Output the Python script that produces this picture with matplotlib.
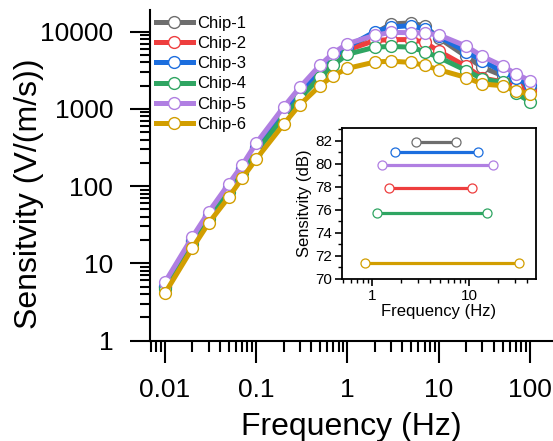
import matplotlib
matplotlib.use("Agg")
import matplotlib.pyplot as plt
from matplotlib.ticker import LogLocator, FuncFormatter, MultipleLocator, NullFormatter

plt.rcParams['font.family'] = ['Liberation Sans', 'DejaVu Sans']

# ----------------------------------------------------------------------------
# Data
freq = [0.01, 0.02, 0.03, 0.05, 0.07, 0.1, 0.2, 0.3, 0.5, 0.7, 1,
        2, 3, 5, 7, 10, 20, 30, 50, 70, 100]

chip1 = [5.0, 19.5, 41, 95, 168, 310, 920, 1620, 3100, 4500, 6200,
         9500, 12600, 13000, 11800, 8300, 4780, 3460, 2700, 2190, 1860]
chip2 = [4.9, 19, 40, 92, 162, 300, 880, 1550, 2950, 4200, 5800,
         7700, 7900, 7900, 7300, 5600, 3550, 2500, 2250, 1900, 1720]
chip3 = [5.1, 20, 42, 97, 172, 320, 950, 1680, 3200, 4700, 6400,
         10000, 11500, 12000, 10800, 8700, 5500, 4200, 3050, 2500, 2030]
chip4 = [4.6, 18, 38, 85, 150, 280, 785, 1370, 2570, 3700, 5100,
         6300, 6450, 6300, 5500, 4660, 3140, 2450, 2200, 1600, 1240]
chip5 = [5.7, 22, 46, 107, 186, 360, 1060, 1900, 3690, 5300, 7000,
         9000, 9800, 9700, 9600, 9100, 6500, 4800, 3600, 2850, 2320]
chip6 = [4.1, 15.8, 33, 72, 126, 224, 635, 1130, 2000, 2700, 3350,
         4050, 4150, 4000, 3650, 3220, 2550, 2100, 2000, 1720, 1550]

labels = ['Chip-1', 'Chip-2', 'Chip-3', 'Chip-4', 'Chip-5', 'Chip-6']
colors = ['#6e6e6e', '#ee3e3e', '#1c6ede', '#2fa562', '#b07fe2', '#d29e00']
series = [chip1, chip2, chip3, chip4, chip5, chip6]

# inset: bandwidth (low / high corner) and peak sensitivity in dB
band_low = [2.84, 1.5, 1.73, 1.13, 1.27, 0.85]
band_high = [7.35, 10.7, 12.4, 15.3, 17.7, 32.7]
peak_db = [81.9, 77.9, 81.0, 75.7, 79.9, 71.4]

# ----------------------------------------------------------------------------
fig = plt.figure(figsize=(5.53, 4.41), dpi=100)
ax = fig.add_axes([150/553, 1 - 340.5/441, 403/553, 330.5/441])

for y, c, lab in zip(series, colors, labels):
    ax.plot(freq, y, color=c, lw=3.6, marker='o', ms=8.5,
            mfc='white', mec=c, mew=1.0, label=lab)

ax.set_xscale('log')
ax.set_yscale('log')
ax.set_xlim(0.00685, 178.7)
ax.set_ylim(1, 19100)

for s in ['top', 'right']:
    ax.spines[s].set_visible(False)
for s in ['left', 'bottom']:
    ax.spines[s].set_linewidth(1.5)

fmt = FuncFormatter(lambda v, p: '%g' % v)
ax.xaxis.set_major_locator(LogLocator(base=10, numticks=10))
ax.yaxis.set_major_locator(LogLocator(base=10, numticks=10))
ax.xaxis.set_minor_locator(LogLocator(base=10, subs=range(2, 10), numticks=20))
ax.yaxis.set_minor_locator(LogLocator(base=10, subs=range(2, 10), numticks=20))
ax.xaxis.set_major_formatter(fmt)
ax.yaxis.set_major_formatter(fmt)
ax.xaxis.set_minor_formatter(NullFormatter())
ax.yaxis.set_minor_formatter(NullFormatter())

ax.tick_params(axis='both', which='major', direction='out', width=1.5, labelsize=19)
ax.tick_params(axis='both', which='minor', direction='out', width=1.5)
ax.tick_params(axis='x', which='major', length=16, pad=11)
ax.tick_params(axis='x', which='minor', length=8)
ax.tick_params(axis='y', which='major', length=14.5, pad=12)
ax.tick_params(axis='y', which='minor', length=7)

ax.set_xlabel('Frequency (Hz)', fontsize=23, va='baseline')
ax.xaxis.set_label_coords(0.5, -0.286)
ax.set_ylabel('Sensitvity (V/(m/s))', fontsize=23, va='center')
ax.yaxis.set_label_coords(-0.30, 0.443)

ax.legend(loc='upper left', bbox_to_anchor=(0.0, 1.0), frameon=False,
          fontsize=12, handlelength=2.2, handletextpad=0.3,
          labelspacing=0.31, borderpad=0.1, borderaxespad=0.25, numpoints=1)

# ----------------------------------------------------------------------------
# Inset
ins = fig.add_axes([342/553, 1 - 279/441, 194/553, 151/441])
for lo, hi, db, c in zip(band_low, band_high, peak_db, colors):
    ins.plot([lo, hi], [db, db], color=c, lw=2.3, marker='o', ms=6.5,
             mfc='white', mec=c, mew=0.9)

ins.set_xscale('log')
ins.set_xlim(0.49, 49)
ins.set_ylim(70, 83.1)
ins.yaxis.set_major_locator(MultipleLocator(2))
ins.yaxis.set_minor_locator(MultipleLocator(1))
ins.xaxis.set_major_locator(LogLocator(base=10, numticks=10))
ins.xaxis.set_minor_locator(LogLocator(base=10, subs=range(2, 10), numticks=20))
ins.xaxis.set_major_formatter(fmt)
ins.xaxis.set_minor_formatter(NullFormatter())
for s in ins.spines.values():
    s.set_linewidth(1.3)
ins.tick_params(axis='both', which='major', direction='out', length=5,
                width=1.2, labelsize=11, pad=2)
ins.tick_params(axis='both', which='minor', direction='out', length=3, width=1.0)
ins.set_xlabel('Frequency (Hz)', fontsize=12, labelpad=1)
ins.set_ylabel('Sensitvity (dB)', fontsize=12, labelpad=2)

fig.savefig('out.png', dpi=100)
